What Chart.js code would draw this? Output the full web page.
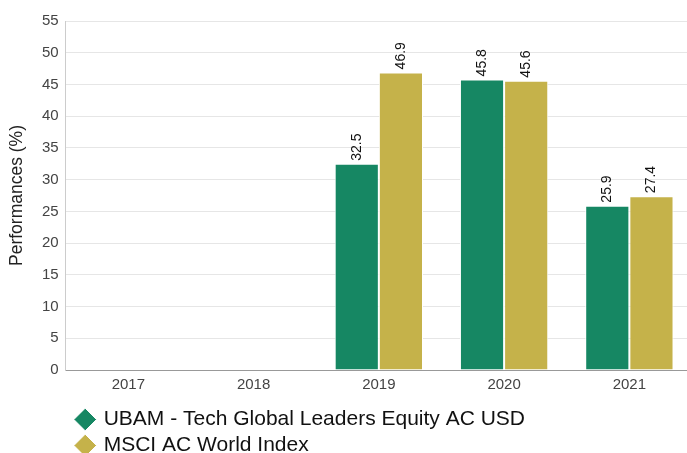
<!DOCTYPE html>
<html>
<head>
<meta charset="utf-8">
<script src="https://cdn.jsdelivr.net/npm/chart.js@4.4.1/dist/chart.umd.min.js"></script>
<style>
    html, body { margin: 0; padding: 0; overflow: hidden; background: #fff; }
    #wrap { width: 692px; height: 462px; }
</style>
</head>
<body>
<div id="wrap"><canvas id="myChart" width="692" height="462"></canvas></div>
<script>
// Données du graphique
const years = ['2017', '2018', '2019', '2020', '2021'];
const fundValues = [null, null, 32.5, 45.8, 25.9];
const indexValues = [null, null, 46.9, 45.6, 27.4];
const fundLabel = 'UBAM - Tech Global Leaders Equity AC USD';
const indexLabel = 'MSCI AC World Index';

const fontFamily = '"Liberation Sans", Arial, Helvetica, sans-serif';

// Étiquettes verticales au-dessus des barres
const barLabels = {
    id: 'barLabels',
    afterDatasetsDraw(chart) {
        const ctx = chart.ctx;
        chart.data.datasets.forEach((ds, i) => {
            const meta = chart.getDatasetMeta(i);
            meta.data.forEach((bar, j) => {
                const v = ds.data[j];
                if (v === null) return;
                ctx.save();
                ctx.translate(bar.x, bar.y - 3);
                ctx.rotate(-Math.PI / 2);
                ctx.font = '14px ' + fontFamily;
                ctx.fillStyle = '#111';
                ctx.textAlign = 'left';
                ctx.textBaseline = 'middle';
                ctx.fillText(v.toFixed(1), 0, 0);
                ctx.restore();
            });
        });
    }
};

// Décaler un peu la légende (à droite et vers le bas)
const legendShift = {
    id: 'legendShift',
    afterLayout(chart) {
        const lg = chart.legend;
        if (!lg) return;
        lg.left += 6.5;
        lg.right += 6.5;
        lg.top += 4;
        lg.bottom += 4;
    }
};

const ctx = document.getElementById('myChart').getContext('2d');
const chart = new Chart(ctx, {
    type: 'bar',
    data: {
        labels: years,
        datasets: [{
            label: fundLabel,
            data: fundValues,
            backgroundColor: '#168763',
            borderColor: '#ffffff',
            borderWidth: 1,
            categoryPercentage: 0.705,
            barPercentage: 1
        }, {
            label: indexLabel,
            data: indexValues,
            backgroundColor: '#c5b24a',
            borderColor: '#ffffff',
            borderWidth: 1,
            categoryPercentage: 0.705,
            barPercentage: 1
        }]
    },
    options: {
        responsive: false,
        animation: false,
        layout: { padding: { top: 21, right: 0, left: 3, bottom: 0 } },
        plugins: {
            tooltip: { enabled: false },
            legend: {
                position: 'bottom',
                align: 'start',
                fullSize: false,
                labels: {
                    usePointStyle: true,
                    pointStyle: 'rectRot',
                    boxWidth: 16,
                    boxHeight: 16,
                    padding: 5,
                    color: '#111',
                    font: { size: 21, family: fontFamily }
                }
            }
        },
        scales: {
            x: {
                grid: { display: false, drawTicks: false },
                border: { color: '#999999' },
                ticks: { color: '#444', padding: 6, font: { size: 15, family: fontFamily } }
            },
            y: {
                min: 0,
                max: 55,
                ticks: { stepSize: 5, color: '#444', padding: 7, font: { size: 15, family: fontFamily } },
                grid: { color: '#e6e6e6', drawTicks: false },
                border: { color: '#cccccc' },
                title: {
                    display: true,
                    text: 'Performances (%)',
                    color: '#222',
                    padding: { top: 4, bottom: 7 },
                    font: { size: 17.5, family: fontFamily }
                }
            }
        }
    },
    plugins: [barLabels, legendShift]
});
</script>
</body>
</html>
